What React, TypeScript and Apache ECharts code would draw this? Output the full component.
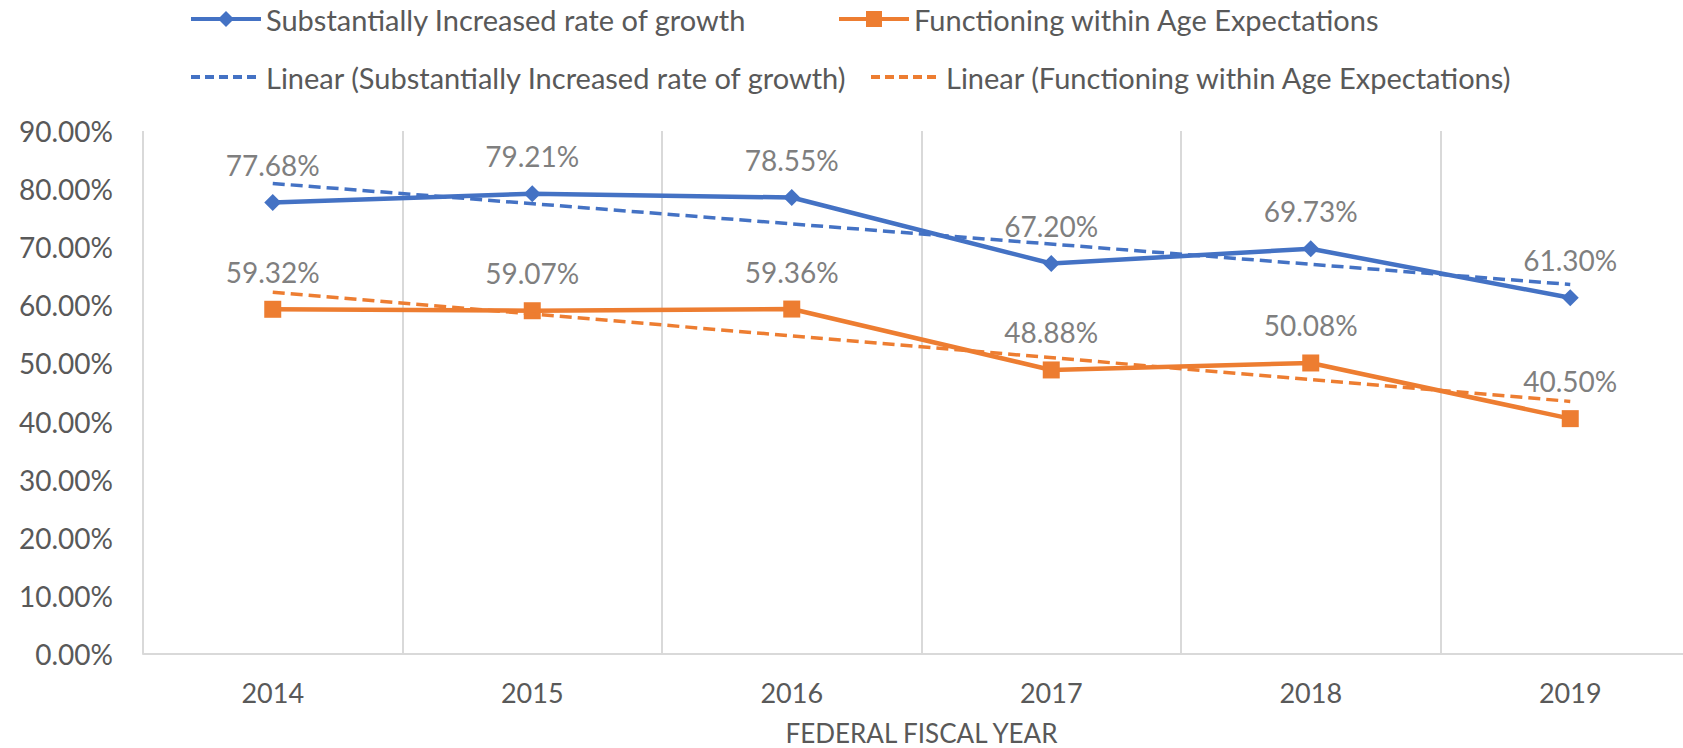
import React, { useEffect, useRef } from "react";
import * as echarts from "echarts";

const years = ["2014", "2015", "2016", "2017", "2018", "2019"];
const growth = [77.68, 79.21, 78.55, 67.2, 69.73, 61.3];
const ageExp = [59.32, 59.07, 59.36, 48.88, 50.08, 40.5];
// linear trendline end points (first and last year)
const growthTrend = [80.97, 63.59];
const ageTrend = [62.27, 43.47];
const yTicks = [0, 90, 10];

const NAME_G = "Substantially Increased rate of growth";
const NAME_A = "Functioning within Age Expectations";
const NAME_GT = "Linear (Substantially Increased rate of growth)";
const NAME_AT = "Linear (Functioning within Age Expectations)";

const BLUE = "#4472C4";
const ORANGE = "#ED7D31";
const FONT = "Lato";

export default function App() {
  const ref = useRef<HTMLDivElement>(null);
  useEffect(() => {
    if (!ref.current) return;
    const chart = echarts.init(ref.current, undefined, { renderer: "svg" });
    const legendBase = (name: string, left: number, top: number, trend: boolean) => ({
      data: [name],
      left,
      top,
      padding: 0,
      itemWidth: 70,
      itemHeight: 20,
      selectedMode: false,
      lineStyle: trend ? { width: 4, type: [9, 5] } : { width: 4 },
      itemStyle: trend ? { opacity: 0 } : {},
      textStyle: { fontFamily: FONT, fontSize: 29, color: "#595959", lineHeight: 30 },
    });
    const label = {
      show: true,
      position: "top",
      distance: 15,
      fontFamily: FONT,
      fontSize: 28,
      color: "#7F7F7F",
      formatter: (p: any) => Number(p.value).toFixed(2) + "%",
    };
    chart.setOption({
      animation: false,
      backgroundColor: "#fff",
      legend: [
        legendBase(NAME_G, 189, 4, false),
        legendBase(NAME_A, 837, 4, false),
        legendBase(NAME_GT, 189, 62, true),
        legendBase(NAME_AT, 869, 62, true),
      ],
      grid: {
        left: 143,
        right: -17,
        top: 131,
        bottom: 94,
        containLabel: false,
        outerBoundsMode: "none",
      },
      xAxis: {
        type: "category",
        data: years,
        boundaryGap: true,
        name: "FEDERAL FISCAL YEAR",
        nameLocation: "middle",
        nameGap: 67,
        nameTextStyle: {
          fontFamily: FONT,
          fontSize: 26,
          color: "#595959",
          lineHeight: 24,
          verticalAlign: "top",
        },
        axisLine: { show: true, lineStyle: { color: "#D9D9D9", width: 2 } },
        axisTick: { show: false },
        splitLine: { show: true, lineStyle: { color: "#D9D9D9", width: 2 } },
        axisLabel: { fontFamily: FONT, fontSize: 27, color: "#595959", margin: 25 },
      },
      yAxis: {
        type: "value",
        min: yTicks[0],
        max: yTicks[1],
        interval: yTicks[2],
        axisLine: { show: false },
        axisTick: { show: false },
        splitLine: { show: false },
        axisLabel: {
          fontFamily: FONT,
          fontSize: 28,
          color: "#595959",
          margin: 30,
          formatter: (v: number) => v.toFixed(2) + "%",
        },
      },
      series: [
        {
          name: NAME_G,
          type: "line",
          data: growth,
          color: BLUE,
          symbol: "diamond",
          symbolSize: 17,
          lineStyle: { width: 4.5, color: BLUE },
          itemStyle: { color: BLUE },
          label,
          z: 3,
        },
        {
          name: NAME_A,
          type: "line",
          data: ageExp,
          color: ORANGE,
          symbol: "rect",
          symbolSize: 17,
          lineStyle: { width: 4.5, color: ORANGE },
          itemStyle: { color: ORANGE },
          label,
          z: 3,
        },
        {
          name: NAME_GT,
          type: "line",
          data: [[0, growthTrend[0]], [years.length - 1, growthTrend[1]]],
          color: BLUE,
          symbol: "none",
          lineStyle: { width: 3.5, type: [12, 6], color: BLUE },
          z: 4,
        },
        {
          name: NAME_AT,
          type: "line",
          data: [[0, ageTrend[0]], [years.length - 1, ageTrend[1]]],
          color: ORANGE,
          symbol: "none",
          lineStyle: { width: 3.5, type: [12, 6], color: ORANGE },
          z: 4,
        },
      ],
    });
    return () => chart.dispose();
  }, []);
  return (
    <div
      ref={ref}
      style={{ position: "fixed", left: 0, top: 0, width: 1683, height: 748, background: "#fff" }}
    />
  );
}
